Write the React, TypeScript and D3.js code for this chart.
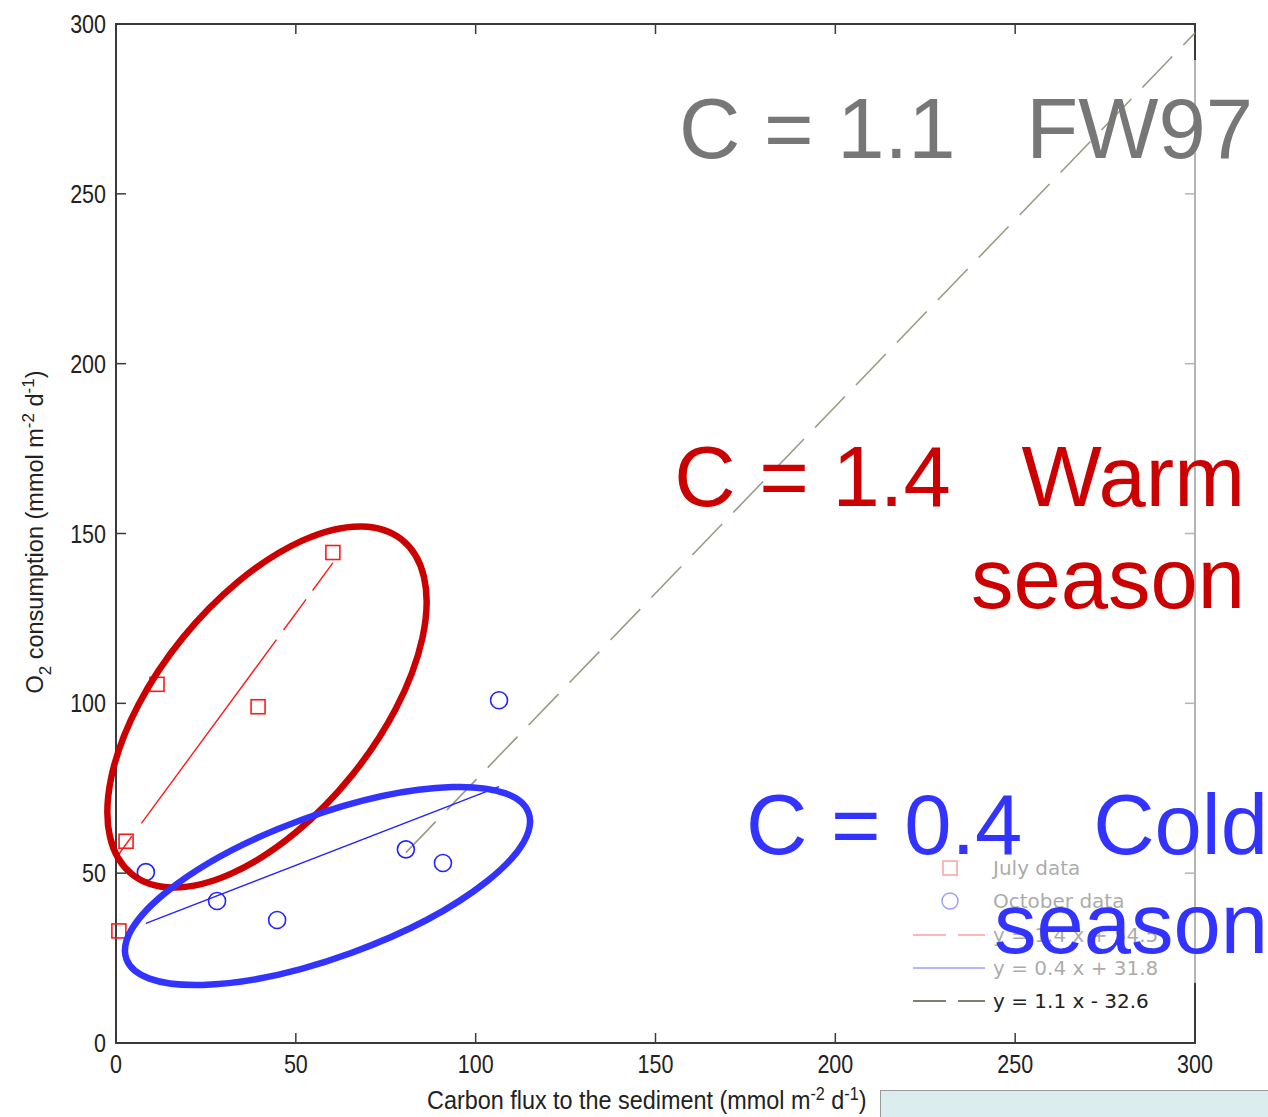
import React from "react";
import * as d3 from "d3";

// Observations (carbon flux x, O2 consumption y), mmol m-2 d-1
const julyX = [0.8, 2.8, 11.4, 39.5, 60.3];
const julyY = [33.0, 59.4, 105.6, 99.0, 144.4];
const octX = [8.3, 28.1, 44.8, 80.6, 90.9, 106.5];
const octY = [50.3, 41.8, 36.2, 57.0, 53.0, 100.9];

// Linear fits
const julyFit = { slope: 1.44, intercept: 54.5 };
const octFit = { slope: 0.41, intercept: 31.8 };
const fw97Fit = { slope: 1.1, intercept: -32.6 };
const fw97Range = [80.6, 300];

const xTicks = [0, 50, 100, 150, 200, 250, 300];
const yTicks = [0, 50, 100, 150, 200, 250, 300];

const legendLabels = ["July data", "October data"];

const W = 1268;
const H = 1117;
const left = 116;
const right = 1195;
const top = 24;
const bottom = 1043;

const fmtFit = (f: { slope: number; intercept: number }) =>
  `y = ${f.slope.toFixed(1)} x ${f.intercept < 0 ? "-" : "+"} ${Math.abs(f.intercept).toFixed(1)}`;

const sans = "'Liberation Sans', Arial, Helvetica, sans-serif";

// Condensed text: horizontal squeeze of a regular sans face
function Narrow({
  x,
  y,
  anchor = "start",
  size = 25,
  sx = 0.86,
  children,
  dy,
}: {
  x: number;
  y: number;
  anchor?: string;
  size?: number;
  sx?: number;
  dy?: string;
  children: React.ReactNode;
}) {
  return (
    <text
      transform={`translate(${x},${y}) scale(${sx},1)`}
      dy={dy}
      textAnchor={anchor}
      fontFamily={sans}
      fontSize={size}
      fill="#222"
    >
      {children}
    </text>
  );
}

export default function App() {
  const x = d3.scaleLinear().domain([0, 300]).range([left, right]);
  const y = d3.scaleLinear().domain([0, 300]).range([bottom, top]);

  const fitLine = (f: { slope: number; intercept: number }, x0: number, x1: number) =>
    d3.line<number>().x((v) => x(v)).y((v) => y(f.slope * v + f.intercept))([x0, x1]) || "";

  const julyPts = julyX.map((v, i) => [v, julyY[i]]);
  const octPts = octX.map((v, i) => [v, octY[i]]);

  const axisColor = "#3a3a3a";
  const tickLen = 10;

  const legendX = 913;
  const legendRows = [868, 901, 935, 968, 1001];

  return (
    <svg
      width={W}
      height={H}
      viewBox={`0 0 ${W} ${H}`}
      style={{ position: "absolute", left: 0, top: 0, background: "#fff" }}
    >
      <rect x={0} y={0} width={W} height={H} fill="#fff" />

      {/* axes box */}
      <rect x={left} y={top} width={right - left} height={bottom - top} fill="none" stroke={axisColor} strokeWidth={2} />
      {xTicks.map((t) => (
        <g key={"xt" + t}>
          <line x1={x(t)} x2={x(t)} y1={bottom} y2={bottom - tickLen} stroke={axisColor} strokeWidth={1.5} />
          <line x1={x(t)} x2={x(t)} y1={top} y2={top + tickLen} stroke={axisColor} strokeWidth={1.5} />
          <Narrow x={x(t)} y={bottom + 30} anchor="middle">
            {t}
          </Narrow>
        </g>
      ))}
      {yTicks.map((t) => (
        <g key={"yt" + t}>
          <line x1={left} x2={left + tickLen} y1={y(t)} y2={y(t)} stroke={axisColor} strokeWidth={1.5} />
          <line x1={right} x2={right - tickLen} y1={y(t)} y2={y(t)} stroke={axisColor} strokeWidth={1.5} />
          <Narrow x={left - 10} y={y(t)} dy="0.36em" anchor="end">
            {t}
          </Narrow>
        </g>
      ))}

      {/* axis titles */}
      <Narrow x={427} y={1109} size={26} sx={0.9}>
        Carbon flux to the sediment (mmol m
        <tspan dy={-9} fontSize={18}>-2</tspan>
        <tspan dy={9}> d</tspan>
        <tspan dy={-9} fontSize={18}>-1</tspan>
        <tspan dy={9}>)</tspan>
      </Narrow>
      <text
        transform={`translate(43, 532) rotate(-90)`}
        textAnchor="middle"
        fontFamily={sans}
        fontSize={23.5}
        fill="#222"
      >
        O
        <tspan dy={8} fontSize={17}>2</tspan>
        <tspan dy={-8}> consumption (mmol m</tspan>
        <tspan dy={-9} fontSize={17}>-2</tspan>
        <tspan dy={9}> d</tspan>
        <tspan dy={-9} fontSize={17}>-1</tspan>
        <tspan dy={9}>)</tspan>
      </text>

      {/* legend */}
      <g>
        <rect x={950 - 7} y={legendRows[0] - 7} width={14} height={14} fill="none" stroke="#ff0000" strokeWidth={1.5} />
        <circle cx={950} cy={legendRows[1]} r={8} fill="none" stroke="#0000ff" strokeWidth={1.5} />
        <line x1={legendX} x2={985} y1={legendRows[2]} y2={legendRows[2]} stroke="#ff0000" strokeWidth={1.5} strokeDasharray="33 12" />
        <line x1={legendX} x2={985} y1={legendRows[3]} y2={legendRows[3]} stroke="#0000ff" strokeWidth={1.5} />
        <line x1={legendX} x2={985} y1={legendRows[4]} y2={legendRows[4]} stroke="#55553f" strokeWidth={1.5} strokeDasharray="33 12" />
        {[...legendLabels, fmtFit(julyFit), fmtFit(octFit), fmtFit(fw97Fit)].map((s, i) => (
          <text key={s} x={993} y={legendRows[i]} dy="0.36em" fontFamily="'DejaVu Sans', sans-serif" fontSize={20} fill="#222">
            {s}
          </text>
        ))}
      </g>

      {/* translucent panel over the right side */}
      <rect x={895} y={60} width={W - 895} height={983 - 60} fill="#fff" opacity={0.62} />

      {/* fit lines */}
      <path d={fitLine(fw97Fit, fw97Range[0], fw97Range[1])} fill="none" stroke="#9a9a86" strokeWidth={1.6} strokeDasharray="43 16" />
      <path
        d={fitLine(julyFit, d3.min(julyX)!, d3.max(julyX)!)}
        fill="none"
        stroke="#ff1a1a"
        strokeWidth={1.4}
        strokeDasharray="22 16 228 12 38 11 60"
      />
      <path d={fitLine(octFit, d3.min(octX)!, d3.max(octX)!)} fill="none" stroke="#2323ff" strokeWidth={1.4} />

      {/* observations */}
      {julyPts.map(([a, b], i) => (
        <rect key={"j" + i} x={x(a) - 7} y={y(b) - 7} width={14} height={14} fill="none" stroke="#ff1a1a" strokeWidth={1.6} />
      ))}
      {octPts.map(([a, b], i) => (
        <circle key={"o" + i} cx={x(a)} cy={y(b)} r={8.5} fill="none" stroke="#2323ff" strokeWidth={1.6} />
      ))}

      {/* season groupings */}
      <ellipse cx={267} cy={707} rx={215} ry={109} transform="rotate(-51 267 707)" fill="none" stroke="#cc0000" strokeWidth={6.5} />
      <ellipse cx={327.5} cy={886} rx={214} ry={71} transform="rotate(-20 327.5 886)" fill="none" stroke="#3333ff" strokeWidth={6.5} />

      {/* bottom-right strip */}
      <rect x={880.5} y={1090.5} width={W - 880} height={H - 1090} fill="#dcedf0" stroke="#9a9a9a" strokeWidth={1} />

      {/* annotations */}
      <text x={1253} y={158} textAnchor="end" fontFamily={sans} fontSize={85} fill="#777777" style={{ whiteSpace: "pre" }}>
        C = 1.1   FW97
      </text>
      <text x={1245} y={506} textAnchor="end" fontFamily={sans} fontSize={85} fill="#cc0000" style={{ whiteSpace: "pre" }}>
        C = 1.4   Warm
      </text>
      <text x={1245} y={608} textAnchor="end" fontFamily={sans} fontSize={85} fill="#cc0000">
        season
      </text>
      <text x={1268} y={854} textAnchor="end" fontFamily={sans} fontSize={85} fill="#3333ff" style={{ whiteSpace: "pre" }}>
        C = 0.4   Cold
      </text>
      <text x={1268} y={953} textAnchor="end" fontFamily={sans} fontSize={85} fill="#3333ff">
        season
      </text>
    </svg>
  );
}
